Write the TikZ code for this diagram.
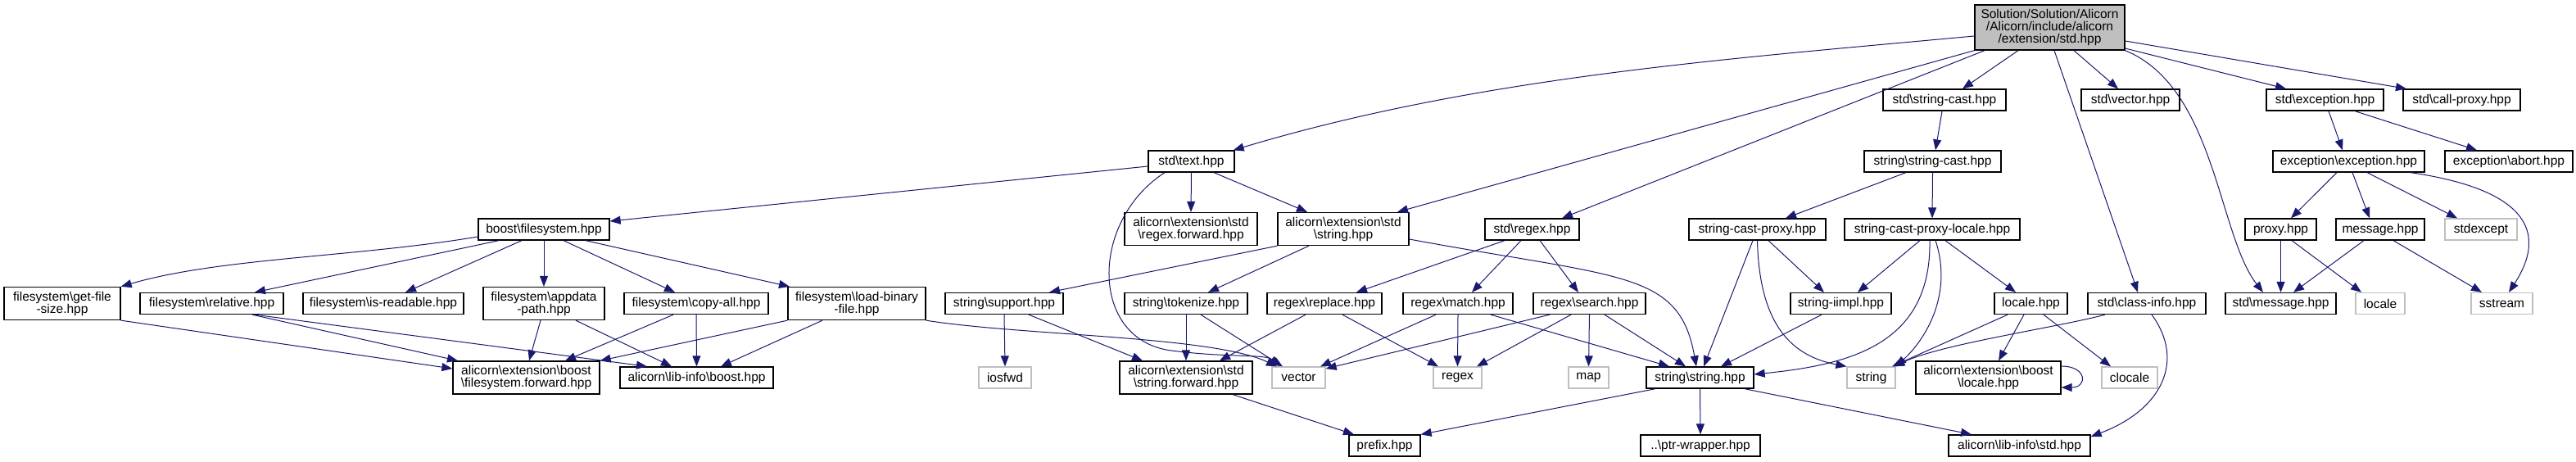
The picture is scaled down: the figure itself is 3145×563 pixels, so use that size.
\documentclass[tikz,border=0pt]{standalone}
\usepackage{fontspec}
\setmainfont{Liberation Sans}
\usetikzlibrary{arrows.meta}
\definecolor{edgec}{HTML}{191970}
\definecolor{sysc}{HTML}{BFBFBF}
\newcommand\bsl{\textbackslash}
\begin{document}
\begin{tikzpicture}[x=1pt,y=-1pt,
  box/.style={draw=black, fill=white, line width=1.3pt, inner sep=0pt, minimum height=26pt, align=center, font=\fontsize{15.5}{15}\selectfont},
  two/.style={minimum height=40pt},
  sys/.style={draw=sysc},
  e/.style={draw=edgec, line width=1pt, -{Triangle[length=13pt,width=10pt]}},
]
\useasboundingbox (0,0) rectangle (3145,563);
% root
\node[box,minimum width=183pt,minimum height=55pt,fill=sysc] (root) at (2502.5,33.5) {Solution/Solution/Alicorn\\/Alicorn/include/alicorn\\/extension/std.hpp};
% row 1
\node[box,minimum width=150pt] (sstrcast) at (2374,122) {std\bsl string-cast.hpp};
\node[box,minimum width=120pt] (svector) at (2601,122) {std\bsl vector.hpp};
\node[box,minimum width=143pt] (sexc) at (2838.5,122) {std\bsl exception.hpp};
\node[box,minimum width=143pt] (scallp) at (3005.5,122) {std\bsl call-proxy.hpp};
% row 2
\node[box,minimum width=105pt] (stext) at (1454.5,197) {std\bsl text.hpp};
\node[box,minimum width=167pt] (strcast) at (2359.5,197) {string\bsl string-cast.hpp};
\node[box,minimum width=185pt] (exexc) at (2867.5,197) {exception\bsl exception.hpp};
\node[box,minimum width=156pt] (exabort) at (3063,197) {exception\bsl abort.hpp};
% row 3
\node[box,minimum width=160pt] (bfs) at (664,280) {boost\bsl filesystem.hpp};
\node[box,two,minimum width=162pt] (regfwd) at (1454,279.5) {alicorn\bsl extension\bsl std\\\bsl regex.forward.hpp};
\node[box,two,minimum width=160pt] (aestr) at (1640,279.5) {alicorn\bsl extension\bsl std\\\bsl string.hpp};
\node[box,minimum width=115pt] (sregex) at (1870.5,280) {std\bsl regex.hpp};
\node[box,minimum width=167pt] (scproxy) at (2145.5,280) {string-cast-proxy.hpp};
\node[box,minimum width=214pt] (scplocale) at (2359,280) {string-cast-proxy-locale.hpp};
\node[box,minimum width=87pt] (proxy) at (2784.5,280) {proxy.hpp};
\node[box,minimum width=108pt] (message) at (2906,280) {message.hpp};
\node[box,sys,minimum width=88pt] (stdexcept) at (3029,280) {stdexcept};
% row 4
\node[box,two,minimum width=142pt] (getfs) at (76,370.5) {filesystem\bsl get-file\\-size.hpp};
\node[box,minimum width=175pt] (relative) at (258.5,370.5) {filesystem\bsl relative.hpp};
\node[box,minimum width=196pt] (isread) at (468,370.5) {filesystem\bsl is-readable.hpp};
\node[box,two,minimum width=148pt] (appdata) at (664,370.5) {filesystem\bsl appdata\\-path.hpp};
\node[box,minimum width=176pt] (copyall) at (850,370.5) {filesystem\bsl copy-all.hpp};
\node[box,two,minimum width=168pt] (loadbin) at (1046,370.5) {filesystem\bsl load-binary\\-file.hpp};
\node[box,minimum width=144pt] (support) at (1226,370.5) {string\bsl support.hpp};
\node[box,minimum width=150pt] (tokenize) at (1448,370.5) {string\bsl tokenize.hpp};
\node[box,minimum width=140pt] (replace) at (1617,370.5) {regex\bsl replace.hpp};
\node[box,minimum width=134pt] (match) at (1780,370.5) {regex\bsl match.hpp};
\node[box,minimum width=137pt] (search) at (1940.5,370.5) {regex\bsl search.hpp};
\node[box,minimum width=123pt] (iimpl) at (2247.5,370.5) {string-iimpl.hpp};
\node[box,minimum width=89pt] (localehpp) at (2479.5,370.5) {locale.hpp};
\node[box,minimum width=144pt] (classinfo) at (2621,370.5) {std\bsl class-info.hpp};
\node[box,minimum width=135pt] (smessage) at (2784.5,370.5) {std\bsl message.hpp};
\node[box,sys,minimum width=60pt] (locale) at (2906,370.5) {locale};
\node[box,sys,minimum width=75pt] (sstream) at (3054.5,370.5) {sstream};
% row 5
\node[box,two,minimum width=179pt] (fsfwd) at (642.5,461) {alicorn\bsl extension\bsl boost\\\bsl filesystem.forward.hpp};
\node[box,minimum width=187pt] (libboost) at (850.5,461) {alicorn\bsl lib-info\bsl boost.hpp};
\node[box,sys,minimum width=64pt] (iosfwd) at (1227,461) {iosfwd};
\node[box,two,minimum width=162pt] (strfwd) at (1448,461) {alicorn\bsl extension\bsl std\\\bsl string.forward.hpp};
\node[box,sys,minimum width=65pt] (vector) at (1585.5,461) {vector};
\node[box,sys,minimum width=59pt] (regex) at (1779.5,461) {regex};
\node[box,sys,minimum width=49pt] (map) at (1939.5,461) {map};
\node[box,minimum width=131pt] (strstr) at (2075.5,461) {string\bsl string.hpp};
\node[box,sys,minimum width=59pt] (string) at (2284.5,461) {string};
\node[box,two,minimum width=177pt] (boostlocale) at (2427.5,461) {alicorn\bsl extension\bsl boost\\\bsl locale.hpp};
\node[box,sys,minimum width=68pt] (clocale) at (2600,461) {clocale};
% row 6
\node[box,minimum width=87pt] (prefix) at (1690.5,544) {prefix.hpp};
\node[box,minimum width=146pt] (ptrw) at (2076,544) {..\bsl ptr-wrapper.hpp};
\node[box,minimum width=173pt] (libstd) at (2465.5,544) {alicorn\bsl lib-info\bsl std.hpp};
% edges from root
\draw[e] ([yshift=-10.5pt]root.west) .. controls +(-300,28) and +(300,-90) .. ([xshift=-2pt]stext.north east);
\draw[e] (root.south west) -- ([xshift=66pt]aestr.north);
\draw[e] ([xshift=-79.5pt]root.south) -- ([xshift=36.5pt]sregex.north);
\draw[e] ([xshift=-38.5pt]root.south) -- ([xshift=22pt]sstrcast.north);
\draw[e] ([xshift=5.5pt]root.south) -- ([xshift=-11pt]classinfo.north);
\draw[e] ([xshift=29.5pt]root.south) -- ([xshift=-15pt]svector.north);
\draw[e] (root.south east) .. controls +(110,45) and +(-55,-70) .. ([xshift=-21.5pt]smessage.north);
\draw[e] ([yshift=-25.5pt]root.east) -- ([xshift=-47.5pt]sexc.north);
\draw[e] ([yshift=-16.5pt]root.east) -- ([xshift=-67.5pt]scallp.north);
% std text
\draw[e] ([yshift=-6pt]stext.west) -- ([yshift=10pt]bfs.east);
\draw[e] (stext.south) -- (regfwd.north);
\draw[e] ([xshift=27.5pt]stext.south) -- ([xshift=-44pt]aestr.north);
\draw[e] ([xshift=-32.5pt]stext.south) .. controls (1330,270) and (1330,415) .. (1430,428) .. controls (1500,437) and (1545,432) .. ([xshift=-23.5pt]vector.north);
% boost filesystem
\draw[e] ([yshift=-9pt]bfs.west) .. controls +(-150,25) and +(120,-35) .. (getfs.north east);
\draw[e] ([xshift=-55pt]bfs.south) -- ([xshift=52.5pt]relative.north);
\draw[e] ([xshift=-27pt]bfs.south) -- ([xshift=27pt]isread.north);
\draw[e] (bfs.south) -- (appdata.north);
\draw[e] ([xshift=24pt]bfs.south) -- ([xshift=-26pt]copyall.north);
\draw[e] ([xshift=51pt]bfs.south) -- ([xshift=-82pt]loadbin.north);
\draw[e] (getfs.south east) -- ([yshift=11pt]fsfwd.west);
\draw[e] ([xshift=49.5pt]relative.south) -- ([xshift=-83.5pt]fsfwd.north);
\draw[e] ([xshift=52.5pt]relative.south) -- ([xshift=-60.5pt]libboost.north);
\draw[e] ([xshift=-4pt]appdata.south) -- ([xshift=3.5pt]fsfwd.north);
\draw[e] ([xshift=39pt]appdata.south) -- ([xshift=-30.5pt]libboost.north);
\draw[e] ([xshift=-28pt]copyall.south) -- ([xshift=47.5pt]fsfwd.north);
\draw[e] (copyall.south) -- (libboost.north);
\draw[e] (loadbin.south west) -- (fsfwd.north east);
\draw[e] ([xshift=-42pt]loadbin.south) -- ([xshift=29.5pt]libboost.north);
\draw[e] (loadbin.south east) .. controls (1250,410) and (1480,410) .. ([xshift=-26.5pt]vector.north);
% alicorn extension std string
\draw[e] (aestr.south west) -- ([xshift=55pt]support.north);
\draw[e] ([xshift=-42pt]aestr.south) -- ([xshift=27pt]tokenize.north);
\draw[e] ([yshift=-12.5pt]aestr.east) .. controls (1980,340) and (2050,330) .. ([xshift=-4.5pt]strstr.north);
\draw[e] (support.south) -- (iosfwd.north);
\draw[e] ([xshift=30pt]support.south) -- ([xshift=-53pt]strfwd.north);
\draw[e] (tokenize.south) -- (strfwd.north);
\draw[e] ([xshift=18pt]tokenize.south) -- ([xshift=-19.5pt]vector.north);
% regex
\draw[e] ([xshift=-33.5pt]sregex.south) -- ([xshift=39pt]replace.north);
\draw[e] ([xshift=-13.5pt]sregex.south) -- ([xshift=17pt]match.north);
\draw[e] ([xshift=9.5pt]sregex.south) -- ([xshift=-13.5pt]search.north);
\draw[e] ([xshift=-23pt]replace.south) -- ([xshift=41pt]strfwd.north);
\draw[e] ([xshift=22pt]replace.south) -- ([xshift=-23.5pt]regex.north);
\draw[e] ([xshift=-27pt]match.south) -- ([xshift=26.5pt]vector.north);
\draw[e] (match.south) -- (regex.north);
\draw[e] ([xshift=40pt]match.south) -- ([xshift=-37.5pt]strstr.north);
\draw[e] ([xshift=-48.5pt]search.south) -- ([yshift=11pt]vector.east);
\draw[e] ([xshift=-22.5pt]search.south) -- ([xshift=23.5pt]regex.north);
\draw[e] (search.south) -- (map.north);
\draw[e] ([xshift=18.5pt]search.south) -- ([xshift=-17.5pt]strstr.north);
\draw[e] ([xshift=57pt]strfwd.south) -- ([xshift=-37.5pt]prefix.north);
\draw[e] ([xshift=-54.5pt]strstr.south) -- (prefix.north east);
\draw[e] (strstr.south) -- (ptrw.north);
\draw[e] ([xshift=54.5pt]strstr.south) -- ([xshift=-58.5pt]libstd.north);
% string cast
\draw[e] ([xshift=-3pt]sstrcast.south) -- ([xshift=3.5pt]strcast.north);
\draw[e] ([xshift=-32.5pt]strcast.south) -- ([xshift=34.5pt]scproxy.north);
\draw[e] (strcast.south) -- (scplocale.north);
\draw[e] ([xshift=-5.5pt]scproxy.south) -- ([xshift=4.5pt]strstr.north);
\draw[e] ([xshift=13.5pt]scproxy.south) -- ([xshift=-20.5pt]iimpl.north);
\draw[e] (scproxy.south) .. controls (2148,400) and (2190,435) .. (string.north west);
\draw[e] ([xshift=-15pt]scplocale.south) -- ([xshift=20.5pt]iimpl.north);
\draw[e] ([xshift=-3pt]scplocale.south) .. controls (2358,420) and (2260,445) .. ([yshift=4pt]strstr.east);
\draw[e] ([xshift=4pt]scplocale.south) .. controls (2385,360) and (2350,415) .. (string.north east);
\draw[e] ([xshift=16pt]scplocale.south) -- ([xshift=-18.5pt]localehpp.north);
\draw[e] ([xshift=-23.5pt]iimpl.south) -- ([xshift=25.5pt]strstr.north);
\draw[e] ([xshift=-28.5pt]localehpp.south) -- ([xshift=25.5pt]string.north);
\draw[e] ([xshift=-8.5pt]localehpp.south) -- ([xshift=12.5pt]boostlocale.north);
\draw[e] ([xshift=15.5pt]localehpp.south) -- ([xshift=-23pt]clocale.north);
\draw[e] ([yshift=14pt]boostlocale.east) .. controls +(32,0) and +(32,0) .. ([yshift=-12pt]boostlocale.east);
\draw[e] ([xshift=-51pt]classinfo.south) .. controls (2510,400) and (2370,420) .. ([xshift=28pt]string.north);
\draw[e] ([xshift=6pt]classinfo.south) .. controls (2668,440) and (2640,500) .. ([yshift=11pt]libstd.east);
% exception
\draw[e] ([xshift=4.5pt]sexc.south) -- ([xshift=-7.5pt]exexc.north);
\draw[e] ([xshift=36.5pt]sexc.south) -- ([xshift=-39pt]exabort.north);
\draw[e] ([xshift=-14.5pt]exexc.south) -- ([xshift=12.5pt]proxy.north);
\draw[e] ([xshift=4.5pt]exexc.south) -- ([xshift=-13pt]message.north);
\draw[e] ([xshift=22.5pt]exexc.south) -- ([xshift=-29pt]stdexcept.north);
\draw[e] ([xshift=75.5pt]exexc.south) .. controls (3110,235) and (3100,300) .. ([xshift=8.5pt]sstream.north);
\draw[e] (proxy.south) -- (smessage.north);
\draw[e] ([xshift=13.5pt]proxy.south) -- ([xshift=-23pt]locale.north);
\draw[e] ([xshift=-20pt]message.south) -- ([xshift=15.5pt]smessage.north);
\draw[e] ([xshift=16pt]message.south) -- ([xshift=-24.5pt]sstream.north);
\end{tikzpicture}
\end{document}
